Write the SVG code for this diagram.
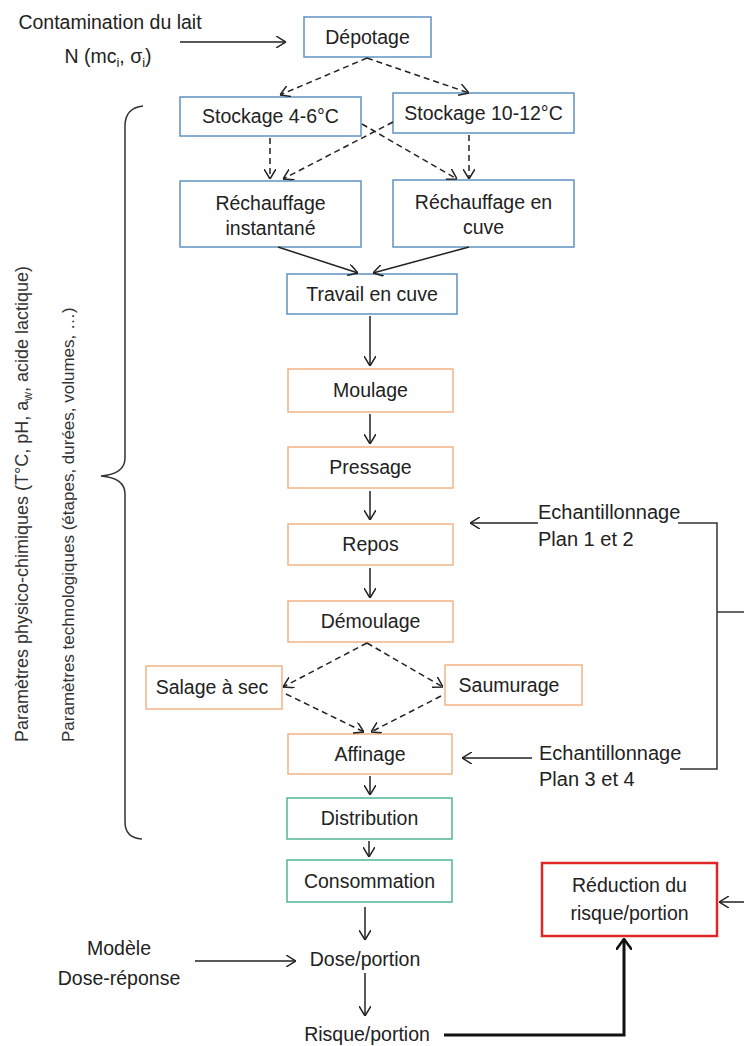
<svg xmlns="http://www.w3.org/2000/svg" width="744" height="1046" viewBox="0 0 744 1046">
<style>
  .t { font-family: "Liberation Sans", Arial, sans-serif; font-size: 19.5px; fill: #222; text-anchor: middle; }
  .ts { font-family: "Liberation Sans", Arial, sans-serif; font-size: 20px; fill: #222; text-anchor: start; }
  .v1 { font-family: "Liberation Sans", Arial, sans-serif; font-size: 18px; fill: #333; }
  .v2 { font-family: "Liberation Sans", Arial, sans-serif; font-size: 17px; fill: #333; }
  .blue { fill: #fff; stroke: #5f93c0; stroke-width: 1.5; }
  .orange { fill: #fff; stroke: #f2b487; stroke-width: 1.5; }
  .green { fill: #fff; stroke: #52b596; stroke-width: 1.5; }
  .red { fill: #fff; stroke: #e02626; stroke-width: 2.5; }
  .c { fill: none; stroke: #222; stroke-width: 1.5; marker-end: url(#ah); }
  .d { fill: none; stroke: #222; stroke-width: 1.5; stroke-dasharray: 6 4; marker-end: url(#ah); }
  .n { fill: none; stroke: #333; stroke-width: 1.5; }
  .thick { fill: none; stroke: #111; stroke-width: 3; marker-end: url(#ahb); }
</style>
<defs>
  <marker id="ah" viewBox="0 0 10 12" refX="10" refY="6" markerWidth="10" markerHeight="12" markerUnits="userSpaceOnUse" orient="auto">
    <path d="M0,0 L10,6 L0,12" fill="none" stroke="#222" stroke-width="1.5" stroke-dasharray="none"/>
  </marker>
  <marker id="ahb" viewBox="0 0 12 16" refX="11" refY="8" markerWidth="12" markerHeight="16" markerUnits="userSpaceOnUse" orient="auto">
    <path d="M0,0 L11,8 L0,16" fill="none" stroke="#111" stroke-width="2.5"/>
  </marker>
</defs>
<rect width="744" height="1046" fill="#fff"/>

<!-- Free labels -->
<g id="contamination">
  <text class="t" x="110" y="29">Contamination du lait</text>
  <text class="t" x="108" y="63">N (mc<tspan font-size="13" dy="4">i</tspan><tspan dy="-4">, σ</tspan><tspan font-size="13" dy="4">i</tspan><tspan dy="-4">)</tspan></text>
</g>

<g id="depotage">
  <rect class="blue" x="304" y="17" width="127" height="40"/>
  <text class="t" x="367.5" y="44">Dépotage</text>
</g>
<g id="stockage46">
  <rect class="blue" x="180" y="97" width="181" height="39"/>
  <text class="t" x="270.5" y="123">Stockage 4-6°C</text>
</g>
<g id="stockage1012">
  <rect class="blue" x="393" y="93" width="181" height="40"/>
  <text class="t" x="483.5" y="120">Stockage 10-12°C</text>
</g>
<g id="rechauffage-instantane">
  <rect class="blue" x="180" y="181" width="181" height="66"/>
  <text class="t" x="270.5" y="210">Réchauffage</text>
  <text class="t" x="270.5" y="235">instantané</text>
</g>
<g id="rechauffage-cuve">
  <rect class="blue" x="393" y="180" width="181" height="67"/>
  <text class="t" x="483.5" y="209">Réchauffage en</text>
  <text class="t" x="483.5" y="234">cuve</text>
</g>
<g id="travail">
  <rect class="blue" x="287" y="274" width="170" height="40"/>
  <text class="t" x="372" y="301">Travail en cuve</text>
</g>
<g id="moulage">
  <rect class="orange" x="288" y="369" width="165" height="43"/>
  <text class="t" x="370.5" y="397">Moulage</text>
</g>
<g id="pressage">
  <rect class="orange" x="288" y="447" width="165" height="41"/>
  <text class="t" x="370.5" y="474">Pressage</text>
</g>
<g id="repos">
  <rect class="orange" x="288" y="524" width="165" height="41"/>
  <text class="t" x="370.5" y="551">Repos</text>
</g>
<g id="demoulage">
  <rect class="orange" x="288" y="601" width="165" height="41"/>
  <text class="t" x="370.5" y="628">Démoulage</text>
</g>
<g id="salage">
  <rect class="orange" x="146" y="666" width="136" height="43"/>
  <text class="t" x="212" y="694">Salage à sec</text>
</g>
<g id="saumurage">
  <rect class="orange" x="445" y="665" width="137" height="40"/>
  <text class="t" x="509" y="692">Saumurage</text>
</g>
<g id="affinage">
  <rect class="orange" x="288" y="734" width="164" height="40"/>
  <text class="t" x="370" y="761">Affinage</text>
</g>
<g id="distribution">
  <rect class="green" x="287" y="798" width="165" height="41"/>
  <text class="t" x="369.5" y="825">Distribution</text>
</g>
<g id="consommation">
  <rect class="green" x="287" y="860" width="165" height="42"/>
  <text class="t" x="369.5" y="888">Consommation</text>
</g>
<g id="reduction">
  <rect class="red" x="542" y="863" width="175" height="73"/>
  <text class="t" x="629.5" y="892">Réduction du</text>
  <text class="t" x="629.5" y="920">risque/portion</text>
</g>
<g id="echantillonnage12">
  <text class="ts" x="538" y="519">Echantillonnage</text>
  <text class="ts" x="538" y="546">Plan 1 et 2</text>
</g>
<g id="echantillonnage34">
  <text class="ts" x="539" y="760">Echantillonnage</text>
  <text class="ts" x="539" y="786">Plan 3 et 4</text>
</g>
<g id="modele">
  <text class="t" x="119" y="955">Modèle</text>
  <text class="t" x="119" y="985">Dose-réponse</text>
</g>
<g id="dose">
  <text class="t" x="365" y="966">Dose/portion</text>
</g>
<g id="risque">
  <text class="t" x="367" y="1041">Risque/portion</text>
</g>

<g id="parametres">
  <path class="n" d="M143,106 Q125,108 125,126 L125,458 Q125,474 101,476 Q125,478 125,494 L125,822 Q125,838 142,839"/>
  <text class="v1" transform="translate(28,742) rotate(-90)">Paramètres physico-chimiques (T°C, pH, a<tspan font-size="12" dy="4">w</tspan><tspan dy="-4">, acide lactique)</tspan></text>
  <text class="v2" transform="translate(74,742) rotate(-90)">Paramètres technologiques (étapes, durées, volumes, …)</text>
</g>

<g id="connectors">
  <line class="c" x1="180" y1="42" x2="286" y2="42"/>
  <line class="d" x1="367" y1="58" x2="280" y2="95"/>
  <line class="d" x1="367" y1="58" x2="469" y2="93"/>
  <line class="d" x1="270" y1="138" x2="270" y2="179"/>
  <line class="d" x1="362" y1="124" x2="457" y2="179"/>
  <line class="d" x1="393" y1="122" x2="283" y2="179"/>
  <line class="d" x1="469" y1="135" x2="469" y2="179"/>
  <line class="c" x1="278" y1="247" x2="358" y2="273"/>
  <line class="c" x1="469" y1="247" x2="373" y2="273"/>
  <line class="c" x1="370" y1="316" x2="370" y2="366"/>
  <line class="c" x1="370" y1="414" x2="370" y2="444"/>
  <line class="c" x1="370" y1="491" x2="370" y2="520"/>
  <line class="c" x1="370" y1="568" x2="370" y2="598"/>
  <line class="d" x1="367" y1="643" x2="283" y2="687"/>
  <line class="d" x1="367" y1="643" x2="443" y2="687"/>
  <line class="d" x1="286" y1="694" x2="364" y2="732"/>
  <line class="d" x1="441" y1="696" x2="371" y2="732"/>
  <line class="c" x1="370" y1="776" x2="370" y2="795"/>
  <line class="c" x1="369" y1="841" x2="369" y2="857"/>
  <line class="c" x1="365" y1="907" x2="365" y2="940"/>
  <line class="c" x1="195" y1="961" x2="296" y2="961"/>
  <line class="c" x1="365" y1="973" x2="365" y2="1016"/>
  <polyline class="thick" points="444,1035 624,1035 624,939"/>
  <line class="c" x1="538" y1="523" x2="470" y2="523"/>
  <line class="c" x1="532" y1="758" x2="462" y2="758"/>
  <polyline class="n" points="678,523 717,523 717,769 680,769"/>
  <line class="n" x1="717" y1="612" x2="744" y2="612"/>
  <line class="c" x1="744" y1="902" x2="719" y2="902"/>
</g>
</svg>
